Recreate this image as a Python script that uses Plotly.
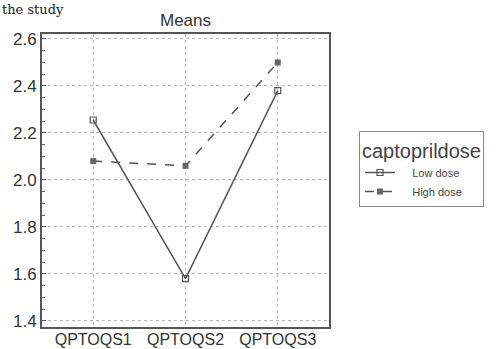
import plotly.graph_objects as go

categories = ["QPTOQS1", "QPTOQS2", "QPTOQS3"]
low_dose = [2.255, 1.58, 2.38]
high_dose = [2.08, 2.06, 2.50]
y_ticks = [1.4, 1.6, 1.8, 2.0, 2.2, 2.4, 2.6]
series_names = ["Low dose", "High dose"]

W, H = 501, 349
L, R, T, B = 42, 172, 34, 22
pw, ph = W - L - R, H - T - B
pad = "\u00a0" * 4

fig = go.Figure()
fig.add_trace(go.Scatter(
    x=categories, y=low_dose, name=pad + series_names[0], mode="lines+markers",
    line=dict(color="#555555", width=1.5),
    marker=dict(symbol="square-open", size=6, color="#555555", line=dict(width=1.2)),
))
fig.add_trace(go.Scatter(
    x=categories, y=high_dose, name=pad + series_names[1], mode="lines+markers",
    line=dict(color="#555555", width=1.5, dash="dash"),
    marker=dict(symbol="square", size=6, color="#666666"),
))

fig.update_layout(
    width=W, height=H,
    margin=dict(l=L, r=R, t=T, b=B, pad=0),
    paper_bgcolor="white", plot_bgcolor="white",
    font=dict(family="Liberation Sans, Arial, sans-serif", color="#333333"),
    title=dict(text="Means", x=(L + pw / 2) / W, xanchor="center",
               y=1 - 20 / H, yanchor="middle", font=dict(size=17, color="#333333")),
    showlegend=True,
    legend=dict(
        x=(359 - L) / pw, y=(H - B - 131) / ph, xanchor="left", yanchor="top",
        bordercolor="#888888", borderwidth=1, bgcolor="white",
        title=dict(text="captoprildose", font=dict(size=20, color="#444444"), side="top"),
        font=dict(size=11, color="#444444"),
        entrywidth=110, tracegroupgap=0,
    ),
    xaxis=dict(
        type="category", range=[-0.555, 2.555],
        showgrid=True, gridcolor="#b5b5b5", griddash="dot", gridwidth=1,
        showline=True, linecolor="#555555", linewidth=2, mirror=True,
        ticks="", tickfont=dict(size=16, color="#333333"), zeroline=False,
        automargin=False, ticklabelstandoff=-3,
    ),
    yaxis=dict(
        range=[1.374, 2.621], tickvals=y_ticks, ticktext=[f"{v:.1f}" for v in y_ticks],
        showgrid=True, gridcolor="#b5b5b5", griddash="dot", gridwidth=1,
        showline=True, linecolor="#555555", linewidth=2, mirror=True,
        ticks="inside", ticklen=4, tickcolor="#555555",
        minor=dict(dtick=0.05, tick0=1.4, ticks="inside", ticklen=3, tickcolor="#666666", showgrid=False),
        tickfont=dict(size=17, color="#333333"), zeroline=False,
        automargin=False,
    ),
    annotations=[dict(
        text="the study", xref="paper", yref="paper",
        x=-L / pw, y=(H - B) / ph, xanchor="left", yanchor="top",
        showarrow=False, font=dict(family="DejaVu Serif, serif", size=13, color="#222222"),
    )],
)

fig.write_html("out.html", config={"displayModeBar": False},
               post_script="document.body.style.margin='0';")
